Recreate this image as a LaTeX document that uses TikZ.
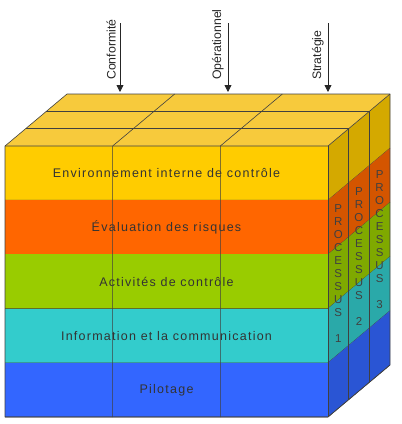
\documentclass[tikz,border=0pt]{standalone}
\usepackage{fontspec}
\setmainfont{Liberation Sans}
\newfontfamily\cubefont[LetterSpace=10]{Liberation Sans}
\usetikzlibrary{arrows.meta}

\definecolor{cEnv}{HTML}{FFCC00}
\definecolor{cEval}{HTML}{FF6600}
\definecolor{cAct}{HTML}{99CC00}
\definecolor{cInfo}{HTML}{33CCCC}
\definecolor{cPil}{HTML}{3366FF}
\definecolor{cDessus}{HTML}{F7CA3C}

\begin{document}
\begin{tikzpicture}[x=1pt,y=-1pt,line join=round,
  arete/.style={draw=black!75,line width=0.6pt},
  fleche/.style={-{Triangle[width=7pt,length=7pt]},line width=0.8pt,black!85},
  axe/.style={rotate=90,anchor=south west,inner sep=1pt,text=black!85,
    font=\fontsize{12.3}{14}\selectfont},
  couche/.style={text=black!80,font=\cubefont\fontsize{12.5}{14}\selectfont},
  processus/.style={align=center,inner sep=0pt,text=black!75,
    font=\fontsize{11.5}{13}\selectfont}]

\useasboundingbox (0,0) rectangle (402,424);

% Couches : face avant et face droite
\foreach \i/\coul/\nom/\txt in {0/cEnv/env/Environnement interne de contrôle,
    1/cEval/eval/Évaluation des risques,
    2/cAct/act/Activités de contrôle,
    3/cInfo/info/Information et la communication,
    4/cPil/pil/Pilotage} {
  \fill[\coul] (5,{146+54.2*\i}) rectangle (328,{200.2+54.2*\i});
  \fill[\coul!83!black] (328,{146+54.2*\i}) -- (390,{94+54.2*\i})
    -- (390,{148.2+54.2*\i}) -- (328,{200.2+54.2*\i}) -- cycle;
  \draw[arete] (5,{200.2+54.2*\i}) -- (328,{200.2+54.2*\i}) -- (390,{148.2+54.2*\i});
  \node[couche] (\nom) at (166.5,{173.1+54.2*\i}) {\txt};
}

% Dessus
\fill[cDessus] (5,146) -- (328,146) -- (390,94) -- (67,94) -- cycle;
\foreach \k in {1,2} {
  \draw[arete] ({5+20.67*\k},{146-17.33*\k}) -- ({328+20.67*\k},{146-17.33*\k})
    -- ({328+20.67*\k},{417-17.33*\k});
  \draw[arete] ({5+107.67*\k},417) -- ({5+107.67*\k},146) -- ({67+107.67*\k},94);
}

% Contours
\draw[arete] (5,417) -- (5,146) -- (67,94) -- (390,94) -- (390,365) -- (328,417) -- cycle;
\draw[arete] (5,146) -- (328,146) -- (390,94);
\draw[arete] (328,146) -- (328,417);

% Processus
\foreach \k/\n in {0/1,1/2,2/3}
  \node[processus] (proc\n) at ({338.3+20.67*\k},{274-17.33*\k})
    {P\\R\\O\\C\\E\\S\\S\\U\\S\\[13pt]\n};

% Axes
\foreach \x/\nom/\txt in {120/conf/Conformité,228/oper/Opérationnel,328/strat/Stratégie} {
  \coordinate (\nom-haut) at (\x,23);
  \coordinate (\nom-bas) at (\x,92);
  \draw[fleche] (\nom-haut) -- (\nom-bas);
  \node[axe] (\nom) at ({\x-3},81) {\txt};
}

\end{tikzpicture}
\end{document}
